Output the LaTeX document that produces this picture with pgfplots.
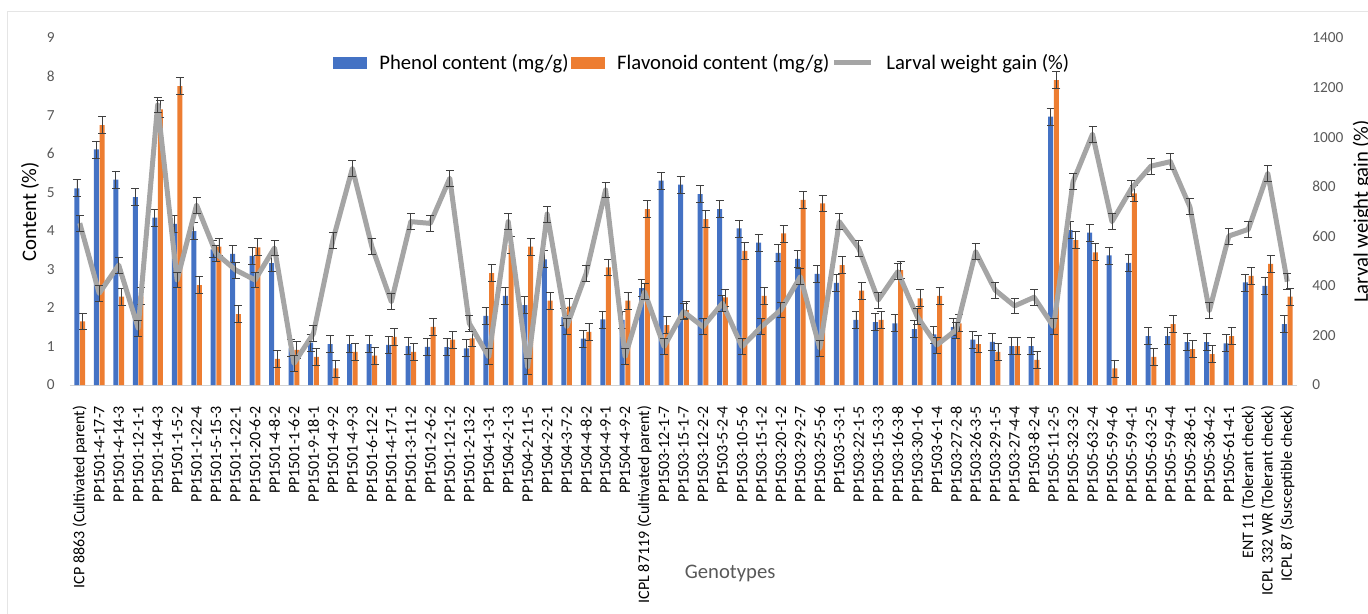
\documentclass[border=0pt]{standalone}
\usepackage{fontspec}
\setmainfont{Carlito}
\usepackage{pgfplots}
\usepackage{pgfplotstable}
\pgfplotsset{compat=1.18}
\definecolor{cblue}{HTML}{4472C4}
\definecolor{corange}{HTML}{ED7D31}
\definecolor{cgray}{HTML}{A5A5A5}
\definecolor{ctick}{HTML}{595959}
\definecolor{cerr}{HTML}{404040}

\pgfplotstableread{
x ph fl lw
0 5.10 1.65 653
1 6.11 6.74 370
2 5.33 2.29 484
3 4.87 2.30 230
4 4.34 7.15 1130
5 4.18 7.75 424
6 3.99 2.59 726
7 3.52 3.59 531
8 3.40 1.84 464
9 3.35 3.57 424
10 3.16 0.68 553
11 0.95 0.91 87
12 1.10 0.73 208
13 1.06 0.43 585
14 1.06 0.86 874
15 1.06 0.76 558
16 1.04 1.25 336
17 1.01 0.86 659
18 0.99 1.51 652
19 0.98 1.18 834
20 0.95 1.21 249
21 1.79 2.90 114
22 2.31 3.63 659
23 2.07 3.59 74
24 3.26 2.19 690
25 1.77 2.03 235
26 1.20 1.38 450
27 1.70 3.05 787
28 1.69 2.19 114
29 2.51 4.56 376
30 5.30 1.55 155
31 5.20 1.94 296
32 4.95 4.30 235
33 4.56 2.27 330
34 4.06 3.48 155
35 3.69 2.31 235
36 3.43 3.93 303
37 3.27 4.80 437
38 2.88 4.71 148
39 2.65 3.11 659
40 1.69 2.45 551
41 1.63 1.69 343
42 1.60 2.98 457
43 1.45 2.25 276
44 1.31 2.31 161
45 1.50 1.60 222
46 1.18 1.06 538
47 1.12 0.86 383
48 1.01 1.01 319
49 1.01 0.65 354
50 6.96 7.91 235
51 4.02 3.76 820
52 3.95 3.44 1012
53 3.36 0.43 659
54 3.17 4.97 793
55 1.27 0.73 883
56 1.27 1.58 901
57 1.11 0.93 719
58 1.11 0.80 300
59 1.08 1.27 601
60 2.66 2.83 628
61 2.57 3.14 854
62 1.58 2.29 417
}\datatable

\pgfplotsset{
  common/.style={
    at={(0pt,0pt)}, anchor=south west,
    scale only axis, width=920.25pt, height=260.25pt,
    xmin=-0.5, xmax=62.5,
    major tick length=0pt,
    /pgf/number format/assume math mode=true,
    /pgf/number format/1000 sep={},
    y axis line style={draw=none},
    yticklabel style={font=\fontsize{11.5}{13}\selectfont, text=ctick},
    ylabel style={font=\fontsize{15.5}{18}\selectfont},
  },
  errs/.style={
    error bars/.cd, y dir=both, y fixed=#1,
    error bar style={cerr, line width=0.6pt},
    error mark options={rotate=90, mark size=3pt, line width=0.6pt, cerr},
  },
}

\begin{document}
\begin{tikzpicture}[x=1pt,y=1pt]
\path[use as bounding box] (-52.5,-171.75) rectangle (973.5,288.75);
\draw[gray!20, line width=0.75pt] (-46.5,-200) -- (-46.5,279.75) -- (1000,279.75);
\begin{axis}[common,
  ymin=0, ymax=9, ytick={0,...,9},
  yticklabel shift=8pt,
  xtick={0,...,62},
  xticklabels={ICP 8863 (Cultivated parent),PP1501-4-17-7,PP1501-4-14-3,PP1501-12-1-1,PP1501-14-4-3,PP1501-1-5-2,PP1501-1-22-4,PP1501-5-15-3,PP1501-1-22-1,PP1501-20-6-2,PP1501-4-8-2,PP1501-1-6-2,PP1501-9-18-1,PP1501-4-9-2,PP1501-4-9-3,PP1501-6-12-2,PP1501-4-17-1,PP1501-3-11-2,PP1501-2-6-2,PP1501-12-1-2,PP1501-2-13-2,PP1504-1-3-1,PP1504-2-1-3,PP1504-2-11-5,PP1504-2-2-1,PP1504-3-7-2,PP1504-4-8-2,PP1504-4-9-1,PP1504-4-9-2,ICPL 87119 (Cultivated parent),PP1503-12-1-7,PP1503-15-1-7,PP1503-12-2-2,PP1503-5-2-4,PP1503-10-5-6,PP1503-15-1-2,PP1503-20-1-2,PP1503-29-2-7,PP1503-25-5-6,PP1503-5-3-1,PP1503-22-1-5,PP1503-15-3-3,PP1503-16-3-8,PP1503-30-1-6,PP1503-6-1-4,PP1503-27-2-8,PP1503-26-3-5,PP1503-29-1-5,PP1503-27-4-4,PP1503-8-2-4,PP1505-11-2-5,PP1505-32-3-2,PP1505-63-2-4,PP1505-59-4-6,PP1505-59-4-1,PP1505-63-2-5,PP1505-59-4-4,PP1505-28-6-1,PP1505-36-4-2,PP1505-61-4-1,ENT 11 (Tolerant check),ICPL 332 WR (Tolerant check),ICPL 87 (Susceptible check)},
  xticklabel style={rotate=90, anchor=east, inner sep=0pt, font=\fontsize{12}{14}\selectfont, text=black},
  xticklabel shift=15.5pt,
  axis x line*=bottom, axis y line*=left,
  x axis line style={draw=gray!35, line width=0.75pt, -},
  ylabel={Content (\%)},
  ylabel style={at={(axis description cs:-0.0326,0.5)}, anchor=center},
  xlabel={Genotypes},
  xlabel style={at={(axis description cs:0.538,-0.5418)}, anchor=center, font=\fontsize{15.5}{18}\selectfont, text=ctick},
  ybar=0.5pt, bar width=3.75pt,
  legend style={at={(axis description cs:0.515,0.928)}, anchor=center, draw=none, fill=none,
    font=\fontsize{15.5}{18}\selectfont, legend columns=3,
    nodes={inner xsep=1.5pt},
    /tikz/every odd column/.append style={column sep=8pt},
    /tikz/every even column/.append style={column sep=0pt}},
]
\addplot[fill=cblue, draw=none,
  legend image code/.code={\fill[cblue] (0pt,-4.5pt) rectangle (25.5pt,4.5pt);}, errs=0.22]
  table[x=x, y=ph]{\datatable};
\addlegendentry{Phenol content (mg/g)}
\addplot[fill=corange, draw=none,
  legend image code/.code={\fill[corange] (0pt,-4.5pt) rectangle (25.5pt,4.5pt);}, errs=0.22]
  table[x=x, y=fl]{\datatable};
\addlegendentry{Flavonoid content (mg/g)}
\addlegendimage{legend image code/.code={\draw[cgray, line width=3.75pt] (0pt,0pt) -- (28pt,0pt);}}
\addlegendentry{Larval weight gain (\%)}
\end{axis}
\begin{axis}[common,
  ymin=0, ymax=1400, ytick={0,200,...,1400},
  yticklabel shift=8pt,
  axis x line=none, axis y line*=right,
  ylabel={Larval weight gain (\%)},
  ylabel style={at={(axis description cs:1.053,0.5)}, anchor=center},
]
\addplot[cgray, line width=3.75pt, line join=round, no marks, errs=32]
  table[x=x, y=lw]{\datatable};
\end{axis}
\end{tikzpicture}
\end{document}
